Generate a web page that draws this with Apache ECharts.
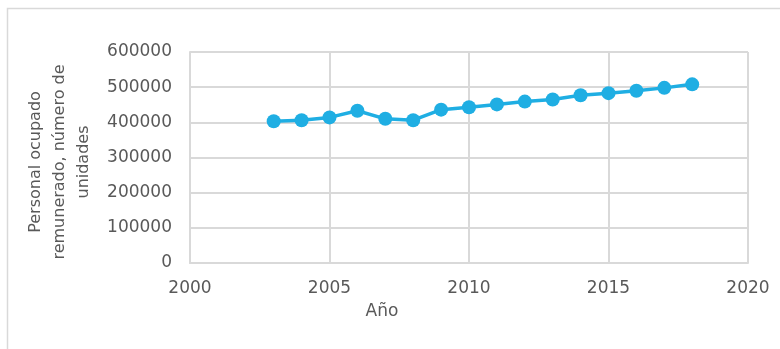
<!DOCTYPE html>
<html>
<head>
<meta charset="utf-8">
<script src="https://cdn.jsdelivr.net/npm/echarts@6/dist/echarts.min.js"></script>
<style>
  html, body { margin: 0; padding: 0; background: #fff; }
  #chart { width: 780px; height: 349px; }
</style>
</head>
<body>
<div id="chart"></div>
<script>
// Personal ocupado remunerado por año
const years = [2003, 2004, 2005, 2006, 2007, 2008, 2009, 2010, 2011, 2012, 2013, 2014, 2015, 2016, 2017, 2018];
const personal = [403000, 406000, 414000, 433000, 410000, 406000, 436000, 443000, 451000, 459000, 465000, 477000, 483000, 490000, 498000, 508000];
const yTitleLines = ['Personal ocupado', 'remunerado, número de', 'unidades'];
const xTitle = 'Año';

const font = 'DejaVu Sans';
const textColor = '#595959';
const gridColor = '#d9d9d9';

const chart = echarts.init(document.getElementById('chart'), null, { renderer: 'canvas' });
chart.setOption({
  animation: false,
  grid: { left: 190, right: 32, top: 52, bottom: 86, containLabel: false },
  xAxis: {
    type: 'value', min: 2000, max: 2020, interval: 5,
    axisLine: { show: true, lineStyle: { color: gridColor, width: 2 } },
    axisTick: { show: false },
    splitLine: { show: true, lineStyle: { color: gridColor, width: 2 } },
    axisLabel: { color: textColor, fontFamily: font, fontSize: 17, margin: 17,
                 formatter: v => String(v) }
  },
  yAxis: {
    type: 'value', min: 0, max: 600000, interval: 100000,
    axisLine: { show: true, lineStyle: { color: gridColor, width: 2 } },
    axisTick: { show: false },
    splitLine: { show: true, lineStyle: { color: gridColor, width: 2 } },
    axisLabel: { color: textColor, fontFamily: font, fontSize: 17, margin: 18,
                 formatter: v => String(v) }
  },
  graphic: [
    { type: 'rect', silent: true, shape: { x: 7.5, y: 8.5, width: 800, height: 400 },
      style: { fill: 'none', stroke: gridColor, lineWidth: 1.5 } },
    { type: 'text', x: 382, y: 312,
      style: { text: xTitle, fill: textColor, font: '17px ' + font, align: 'center', verticalAlign: 'middle' } },
    { type: 'text', x: 60, y: 162, rotation: Math.PI / 2,
      style: { text: yTitleLines.join('\n'), fill: textColor, font: '16px ' + font,
               align: 'center', verticalAlign: 'middle', lineHeight: 24 } }
  ],
  series: [{
    type: 'line',
    data: years.map((y, i) => [y, personal[i]]),
    symbol: 'circle', symbolSize: 14,
    lineStyle: { color: '#1FAEE3', width: 3.5 },
    itemStyle: { color: '#1FAEE3' }
  }]
});
</script>
</body>
</html>
